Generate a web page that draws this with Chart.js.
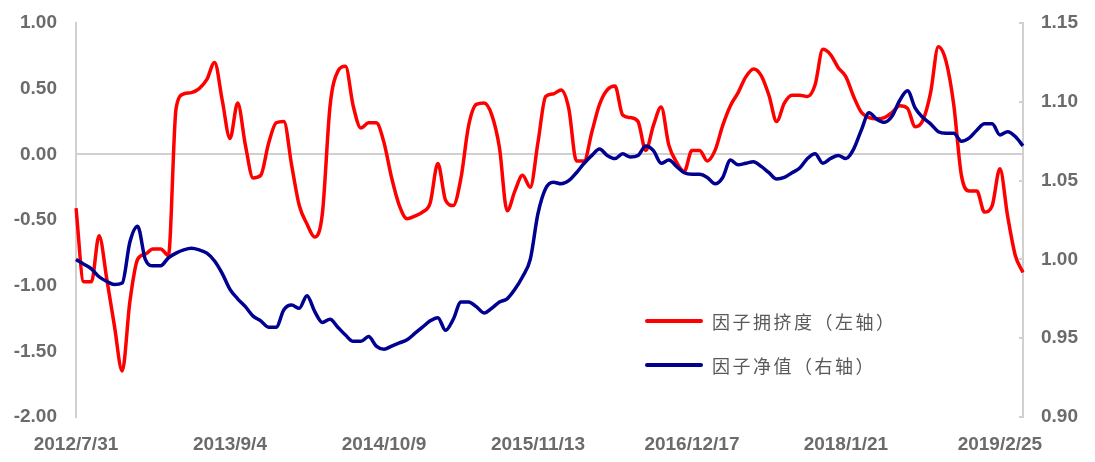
<!DOCTYPE html>
<html>
<head>
<meta charset="utf-8">
<script src="https://cdn.jsdelivr.net/npm/chart.js@4"></script>
<style>
  body { margin: 0; background: #fff; }
</style>
</head>
<body>
<canvas id="crowdChart" width="1095" height="462"></canvas>
<script>
// one point every 20 days, starting 2012/7/31
var startDay = Date.UTC(2012, 6, 31);
var stepDays = 20;

var tickLabels = ['2012/7/31', '2013/9/4', '2014/10/9', '2015/11/13', '2016/12/17', '2018/1/21', '2019/2/25'];

// 因子拥挤度 (left axis)
var crowding = [
  -0.41, -0.97, -0.97, -0.62, -0.95, -1.31, -1.65, -1.12, -0.80, -0.76,
  -0.72, -0.72, -0.77, 0.35, 0.46, 0.47, 0.50, 0.57, 0.70, 0.41,
  0.12, 0.39, 0.07, -0.18, -0.16, 0.08, 0.24, 0.25, -0.08, -0.39,
  -0.53, -0.63, -0.45, 0.37, 0.63, 0.67, 0.37, 0.20, 0.24, 0.24,
  0.09, -0.18, -0.39, -0.49, -0.47, -0.44, -0.37, -0.07, -0.35, -0.39,
  -0.18, 0.22, 0.38, 0.39, 0.30, 0.05, -0.43, -0.28, -0.16, -0.25,
  0.09, 0.44, 0.46, 0.49, 0.35, -0.05, -0.05, 0.17, 0.38, 0.49,
  0.52, 0.30, 0.28, 0.25, 0.03, 0.22, 0.36, 0.07, -0.06, -0.13,
  0.03, 0.03, -0.05, 0.03, 0.22, 0.37, 0.47, 0.59, 0.65, 0.60,
  0.45, 0.25, 0.39, 0.45, 0.45, 0.44, 0.53, 0.80, 0.76, 0.66,
  0.59, 0.44, 0.32, 0.28, 0.27, 0.28, 0.32, 0.37, 0.35, 0.21,
  0.26, 0.47, 0.82, 0.71, 0.38, -0.16, -0.28, -0.28, -0.44, -0.39,
  -0.11, -0.47, -0.77, -0.90
];

// 因子净值 (right axis)
var netValue = [
  1.000, 0.997, 0.994, 0.989, 0.986, 0.984, 0.985, 1.011, 1.021, 1.000,
  0.996, 0.996, 1.001, 1.004, 1.006, 1.007, 1.006, 1.004, 0.999, 0.991,
  0.981, 0.975, 0.970, 0.964, 0.961, 0.957, 0.957, 0.968, 0.971, 0.969,
  0.977, 0.967, 0.960, 0.962, 0.957, 0.952, 0.948, 0.948, 0.951, 0.945,
  0.943, 0.945, 0.947, 0.949, 0.953, 0.957, 0.961, 0.963, 0.955, 0.962,
  0.973, 0.973, 0.970, 0.966, 0.969, 0.973, 0.975, 0.981, 0.989, 1.000,
  1.029, 1.045, 1.049, 1.048, 1.050, 1.055, 1.061, 1.066, 1.070, 1.066,
  1.064, 1.067, 1.065, 1.066, 1.072, 1.069, 1.061, 1.063, 1.059, 1.055,
  1.054, 1.054, 1.052, 1.048, 1.052, 1.063, 1.060, 1.061, 1.062, 1.059,
  1.055, 1.051, 1.052, 1.055, 1.058, 1.064, 1.067, 1.061, 1.064, 1.066,
  1.064, 1.070, 1.082, 1.093, 1.089, 1.087, 1.091, 1.101, 1.107, 1.096,
  1.090, 1.086, 1.081, 1.080, 1.080, 1.075, 1.077, 1.082, 1.086, 1.086,
  1.079, 1.081, 1.078, 1.072
];

var seriesNames = ['因子拥挤度（左轴）', '因子净值（右轴）'];
var seriesColors = ['#ff0000', '#000091'];

var dates = crowding.map(function (v, i) {
  var d = new Date(startDay + i * stepDays * 86400000);
  return d.getUTCFullYear() + '/' + (d.getUTCMonth() + 1) + '/' + d.getUTCDate();
});

var axisGray = '#d0d0d0';
var textGray = '#6b6b6b';
var tickFont = { family: 'Liberation Sans, Arial, sans-serif', size: 19, weight: 'bold' };

// legend drawn inside the plot, like the original
var innerLegend = {
  id: 'innerLegend',
  afterDraw: function (chart) {
    var ctx = chart.ctx;
    ctx.save();
    seriesNames.forEach(function (name, i) {
      var y = 321 + i * 44;
      ctx.strokeStyle = seriesColors[i];
      ctx.lineWidth = 4;
      ctx.lineCap = 'round';
      ctx.beginPath();
      ctx.moveTo(647, y);
      ctx.lineTo(701, y);
      ctx.stroke();
      ctx.fillStyle = '#595959';
      ctx.font = '18px "Noto Sans CJK SC", sans-serif';
      if ('letterSpacing' in ctx) ctx.letterSpacing = '2.5px';
      ctx.textBaseline = 'middle';
      ctx.fillText(name, 712, y + 1);
    });
    ctx.restore();
  }
};

// keep the plot box fixed: no extra top/bottom room from the y tick labels
function fixY(width) {
  return function (s) {
    s.width = width;
    s.paddingTop = 0;
    s.paddingBottom = 0;
  };
}

new Chart('crowdChart', {
  type: 'line',
  data: {
    labels: dates,
    datasets: [{
      label: seriesNames[0],
      data: crowding,
      borderColor: seriesColors[0],
      yAxisID: 'y',
      order: 2
    }, {
      label: seriesNames[1],
      data: netValue,
      borderColor: seriesColors[1],
      yAxisID: 'y1',
      order: 1
    }]
  },
  options: {
    responsive: false,
    devicePixelRatio: 1,
    animation: false,
    layout: { padding: { top: 23, left: 0, right: 0, bottom: 0 } },
    elements: {
      point: { radius: 0 },
      line: { borderWidth: 3.5, cubicInterpolationMode: 'monotone', fill: false }
    },
    plugins: {
      legend: { display: false },
      tooltip: { enabled: false }
    },
    scales: {
      x: {
        type: 'category',
        grid: { display: false },
        border: { display: false },
        ticks: {
          autoSkip: false,
          maxRotation: 0,
          padding: 8,
          color: textGray,
          font: tickFont,
          callback: function (v, i) {
            var lab = this.getLabelForValue(v);
            return tickLabels.indexOf(lab) >= 0 ? lab : '';
          }
        },
        afterFit: function (s) { s.height = 45; }
      },
      y: {
        position: 'left',
        min: -2,
        max: 1,
        ticks: {
          stepSize: 0.5,
          padding: 19,
          color: textGray,
          font: tickFont,
          callback: function (v) { return v.toFixed(2); }
        },
        grid: {
          drawTicks: false,
          lineWidth: 2,
          color: function (c) { return c.tick && c.tick.value === 0 ? axisGray : 'rgba(0,0,0,0)'; }
        },
        border: { color: axisGray, width: 2 },
        afterFit: fixY(76)
      },
      y1: {
        position: 'right',
        min: 0.9,
        max: 1.15,
        ticks: {
          stepSize: 0.05,
          padding: 22,
          color: textGray,
          font: tickFont,
          callback: function (v) { return v.toFixed(2); }
        },
        grid: {
          drawOnChartArea: false,
          tickLength: -4,
          lineWidth: 2,
          color: axisGray
        },
        border: { color: axisGray, width: 2 },
        afterFit: fixY(72)
      }
    }
  },
  plugins: [innerLegend]
});
</script>
</body>
</html>
